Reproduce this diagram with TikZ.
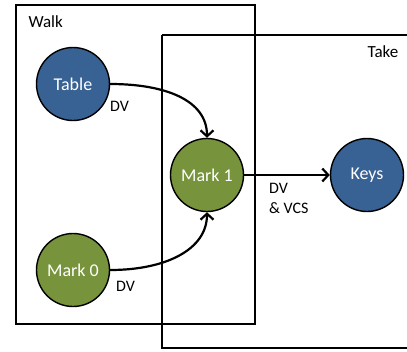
\documentclass[tikz,border=0pt]{standalone}
\usepackage{fontspec}
\setmainfont{Carlito}
\usetikzlibrary{arrows.meta}
\definecolor{nodeblue}{HTML}{386194}
\definecolor{nodegreen}{HTML}{77933C}
\tikzset{
  region/.style={draw=black, line width=1.5pt},
  blob/.style={circle, draw=black, line width=1.4pt, minimum size=73pt, inner sep=0pt,
    text=white, font=\fontsize{18}{20}\selectfont},
  bluenode/.style={blob, fill=nodeblue},
  greennode/.style={blob, fill=nodegreen},
  edgelabel/.style={font=\fontsize{16}{20}\selectfont, inner sep=0pt},
  flow/.style={line width=2.2pt, -{Straight Barb[length=6pt,width=13pt,line width=2.2pt]}}
}
\begin{document}
\begin{tikzpicture}[x=1pt,y=-1pt]
  \useasboundingbox (0,0) rectangle (407,351);
  % the two groups
  \draw[region] (16,5) rectangle (255,324);
  \draw[region] (162,35) -- (410,35);
  \draw[region] (162,35) -- (162,348) -- (410,348);
  \node[font=\fontsize{17}{19}\selectfont, anchor=west] (walk) at (25,22) {Walk};
  \node[font=\fontsize{17}{19}\selectfont] (take) at (383,52) {Take};
  % nodes
  \node[bluenode] (table) at (73,84) {Table};
  \node[greennode] (mark0) at (73,270) {Mark 0};
  \node[greennode] (mark1) at (207,175) {Mark 1};
  \node[bluenode] (keys) at (367,175) {Keys};
  % connectors
  \draw[flow] (table.east) .. controls (165,84) and (207,100) .. (mark1.north);
  \draw[flow] (mark0.east) .. controls (165,270) and (207,250) .. (mark1.south);
  \draw[flow] (mark1.east) -- (keys.west);
  % labels
  \node[edgelabel, anchor=west] (dvtable) at (110,106) {DV};
  \node[edgelabel, anchor=west] (dvmark0) at (116,286) {DV};
  \node[edgelabel, anchor=north west, align=left] (dvvcs) at (269,183) {DV\\\& VCS};
\end{tikzpicture}
\end{document}
